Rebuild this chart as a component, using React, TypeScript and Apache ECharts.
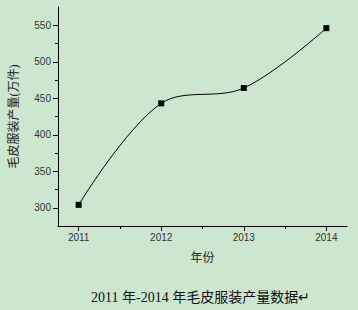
import React, { useEffect, useRef } from "react";
import * as echarts from "echarts";

const years = [2011, 2012, 2013, 2014];
const output = [304, 443, 464, 546];
const yMajorTicks = [300, 350, 400, 450, 500, 550];
const yMinorTicks = [325, 375, 425, 475, 525];
const xMajorTicks = [2011, 2012, 2013, 2014];
const xMinorTicks = [2011.5, 2012.5, 2013.5];
const xTitle = "年份";
const yTitle = "毛皮服装产量(万件)";
const caption = "2011 年-2014 年毛皮服装产量数据↵";

export default function App() {
  const ref = useRef<HTMLDivElement>(null);
  useEffect(() => {
    if (!ref.current) return;
    const chart = echarts.init(ref.current, null, { renderer: "svg" });
    const axisFont = { fontFamily: "Arial, 'Liberation Sans', sans-serif", fontSize: 10, color: "#333" };
    const lineStyle = { color: "#000", width: 1 };
    chart.setOption({
      animation: false,
      backgroundColor: "#cde6d0",
      grid: { left: 51, right: 11, top: 7, bottom: 84 },
      title: {
        text: caption,
        left: 86,
        top: 285,
        textStyle: {
          fontFamily: "'Liberation Serif', 'Noto Sans CJK SC', serif",
          fontSize: 14,
          fontWeight: "normal",
          color: "#111",
        },
      },
      xAxis: [
        {
          type: "value",
          min: 2010.75,
          max: 2014.25,
          splitLine: { show: false },
          axisLine: { show: true, lineStyle },
          axisTick: { show: true, customValues: xMajorTicks, length: 5, lineStyle },
          axisLabel: { ...axisFont, customValues: xMajorTicks, margin: 6, formatter: (v: number) => String(v) },
          name: xTitle,
          nameLocation: "middle",
          nameGap: 24,
          nameTextStyle: { fontFamily: "'Noto Sans CJK SC', sans-serif", fontSize: 12, color: "#222" },
        },
        {
          type: "value",
          position: "bottom",
          min: 2010.75,
          max: 2014.25,
          splitLine: { show: false },
          axisLine: { show: false },
          axisTick: { show: true, customValues: xMinorTicks, length: 3, lineStyle },
          axisLabel: { show: false },
        },
      ],
      yAxis: [
        {
          type: "value",
          min: 275,
          max: 575,
          splitLine: { show: false },
          axisLine: { show: true, lineStyle },
          axisTick: { show: true, customValues: yMajorTicks, length: 5, lineStyle },
          axisLabel: { ...axisFont, customValues: yMajorTicks, margin: 7 },
          name: yTitle,
          nameLocation: "middle",
          nameGap: 38,
          nameRotate: 90,
          nameTextStyle: {
            fontFamily: "'Liberation Serif', 'Noto Sans CJK SC', serif",
            fontSize: 12,
            color: "#222",
          },
        },
        {
          type: "value",
          position: "left",
          min: 275,
          max: 575,
          splitLine: { show: false },
          axisLine: { show: false },
          axisTick: { show: true, customValues: yMinorTicks, length: 3, lineStyle },
          axisLabel: { show: false },
        },
      ],
      series: [
        {
          type: "line",
          data: years.map((y, i) => [y, output[i]]),
          smooth: 0.35,
          symbol: "rect",
          symbolSize: 6,
          itemStyle: { color: "#000" },
          lineStyle: { color: "#000", width: 1 },
        },
      ],
    });
    return () => chart.dispose();
  }, []);
  return (
    <div
      ref={ref}
      style={{ position: "fixed", left: 0, top: 0, width: 358, height: 310 }}
    />
  );
}
